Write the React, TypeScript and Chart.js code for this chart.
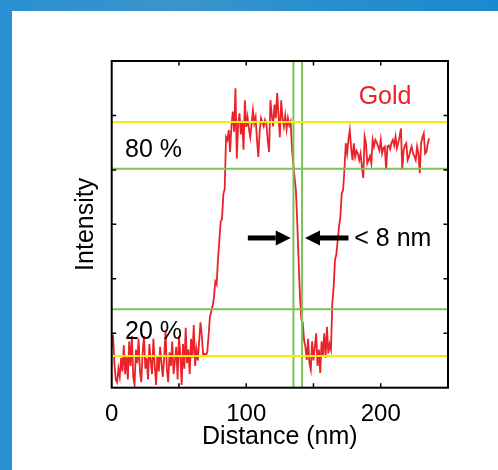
import { useEffect, useRef } from "react";
import { Chart, registerables } from "chart.js";

Chart.register(...registerables);

// ---- data (intensity profile, 1 nm sampling, starting at 0 nm) ----
const lowSideA = [
  0.74, 0.97, 0.45, 0.15, 0.10, 0.35, 0.20, 0.55, 0.30, 0.78,
  0.25, 0.60, 0.15, 0.85, 0.40, 0.95, 0.20, 0.05, 0.70, 0.45,
  0.90, 0.30, 0.10, 0.65, 0.95, 0.35, 0.55, 0.15, 0.80, 0.50,
  0.25, 0.90, 0.40, 0.05, 0.60, 0.30, 0.75, 0.45, 0.20, 0.55,
  1.05, 0.35, 0.10, 0.65, 0.40, 0.85, 0.25, 0.50, 0.75, 0.15,
  0.95, 0.60, 0.05, 0.80, 0.35, 1.10, 0.45, 0.70, 0.25, 0.90,
  0.55, 1.15, 0.40, 0.70, 0.50, 0.85, 1.20, 0.95, 0.60, 0.62,
];
const risingEdge = [
  0.60, 0.65, 0.95, 1.30, 1.40, 1.50, 1.65, 1.95, 1.90, 2.35,
  2.70, 3.05, 3.10, 3.55, 3.65, 4.60,
];
const goldPlateau = [
  4.55, 4.73, 4.33, 4.79, 5.07, 4.70, 5.50, 4.21, 4.85, 5.04,
  4.65, 4.90, 4.37, 5.28, 4.79, 4.97, 4.75, 4.60, 4.85, 5.10,
  4.86, 4.97, 4.55, 4.24, 4.70, 4.95, 4.88, 4.80, 4.92, 4.85,
  4.55, 4.33, 5.28, 5.00, 4.80, 5.20, 4.95, 5.41, 5.00, 4.60,
  5.28, 4.95, 4.80, 5.00, 4.75, 4.95, 4.82, 4.89,
];
const gapTrough = [
  4.40, 4.10, 3.85, 3.60, 3.00, 2.30, 1.65, 1.25, 1.20, 0.88,
  0.75, 0.51, 0.90, 0.45, 0.33, 0.85, 0.50, 0.75, 1.00, 0.40,
  0.70, 0.27, 0.85, 0.60, 1.00, 0.55, 1.12, 0.63, 0.80, 0.70,
  1.55, 1.85, 2.35, 2.45, 2.70, 2.96, 3.14, 3.57, 3.63,
];
const rightPlateau = [
  4.00, 4.49, 4.30, 4.55, 4.73, 4.40, 4.18, 4.49, 4.24, 4.35,
  4.30, 4.18, 4.30, 4.05, 3.85, 4.61, 4.49, 4.12, 4.18, 4.25,
  4.12, 4.55, 4.43, 4.55, 4.50, 4.43, 4.36, 4.55, 4.30, 4.40,
  4.43, 4.00, 4.43, 4.45, 4.38, 4.50, 4.55, 4.45, 4.61, 4.40,
  4.50, 4.61, 4.76, 4.00, 4.36, 4.45, 4.49, 4.18, 4.24, 4.35,
  4.43, 4.30, 4.25, 4.18, 4.43, 4.30, 3.94, 4.49, 4.60, 4.67,
  4.30, 4.33, 4.49, 4.58,
];
const intensity = [...lowSideA, ...risingEdge, ...goldPlateau, ...gapTrough, ...rightPlateau];
const distance = intensity.map((_, i) => i);

const xLabelTicks = [0, 100, 200];
const xRange = [0, 250];
const yRange = [0, 6];
const levels100 = [0.58, 4.88]; // yellow: 0 % and 100 % levels
const levels2080 = [1.44, 4.02]; // green: 20 % and 80 % levels
const edgePositions = [135.1, 141.5]; // green verticals (nm)

// ---- styles ----
const FONT = "'Liberation Sans', Arial, Helvetica, sans-serif";
const RED = "#ea2229";
const YELLOW = "#f3ef00";
const GREEN = "#7cc25a";

const textNotes = [
  { text: "Gold", x: 183.6, y: 5.21, color: RED },
  { text: "80 %", x: 9.9, y: 4.23, color: "#000" },
  { text: "20 %", x: 9.9, y: 0.89, color: "#000" },
  { text: "< 8 nm", x: 180.3, y: 2.6, color: "#000" },
];
const arrowNotes = [
  { from: 101.2, to: 133.1, y: 2.75 },
  { from: 176.0, to: 143.7, y: 2.75 },
];

const overlay = {
  id: "overlay",
  afterDatasetsDraw(chart: any) {
    const { ctx, chartArea: a, scales } = chart;
    const x = scales.x;
    const y = scales.y;
    ctx.save();
    // frame
    ctx.strokeStyle = "#000";
    ctx.lineWidth = 2;
    ctx.strokeRect(a.left, a.top, a.right - a.left, a.bottom - a.top);
    // inward ticks
    ctx.lineWidth = 1.5;
    ctx.beginPath();
    const tl = 4.5;
    for (const t of x.ticks) {
      if (t.value <= xRange[0] || t.value >= xRange[1]) continue;
      const px = x.getPixelForValue(t.value);
      ctx.moveTo(px, a.bottom);
      ctx.lineTo(px, a.bottom - tl);
      ctx.moveTo(px, a.top);
      ctx.lineTo(px, a.top + tl);
    }
    for (const t of y.ticks) {
      if (t.value <= yRange[0] || t.value >= yRange[1]) continue;
      const py = y.getPixelForValue(t.value);
      ctx.moveTo(a.left, py);
      ctx.lineTo(a.left + tl, py);
      ctx.moveTo(a.right, py);
      ctx.lineTo(a.right - tl, py);
    }
    ctx.stroke();
    // text notes
    ctx.font = `25px ${FONT}`;
    ctx.textBaseline = "alphabetic";
    ctx.textAlign = "left";
    for (const n of textNotes) {
      ctx.fillStyle = n.color;
      ctx.fillText(n.text, x.getPixelForValue(n.x), y.getPixelForValue(n.y));
    }
    // arrows
    ctx.fillStyle = "#000";
    for (const ar of arrowNotes) {
      const tail = x.getPixelForValue(ar.from);
      const tip = x.getPixelForValue(ar.to);
      const py = y.getPixelForValue(ar.y);
      const dir = Math.sign(tip - tail);
      const headLen = 15;
      const headHalf = 7.5;
      const shaft = 5;
      const base = tip - dir * headLen;
      ctx.fillRect(Math.min(tail, base), py - shaft / 2, Math.abs(base - tail), shaft);
      ctx.beginPath();
      ctx.moveTo(tip, py);
      ctx.lineTo(base, py - headHalf);
      ctx.lineTo(base, py + headHalf);
      ctx.closePath();
      ctx.fill();
    }
    ctx.restore();
  },
};

export default function App() {
  const ref = useRef<HTMLCanvasElement>(null);
  useEffect(() => {
    const hLine = (v: number, color: string) => ({
      data: [
        { x: xRange[0], y: v },
        { x: xRange[1], y: v },
      ],
      borderColor: color,
      borderWidth: 2,
      pointRadius: 0,
      tension: 0,
    });
    const vLine = (v: number, color: string) => ({
      data: [
        { x: v, y: yRange[0] },
        { x: v, y: yRange[1] },
      ],
      borderColor: color,
      borderWidth: 2,
      pointRadius: 0,
      tension: 0,
    });
    const chart = new Chart(ref.current as HTMLCanvasElement, {
      type: "line",
      data: {
        datasets: [
          ...levels100.map((v) => hLine(v, YELLOW)),
          ...levels2080.map((v) => hLine(v, GREEN)),
          ...edgePositions.map((v) => vLine(v, GREEN)),
          {
            label: "Gold",
            data: distance.map((d, i) => ({ x: d, y: intensity[i] })),
            borderColor: RED,
            borderWidth: 1.8,
            pointRadius: 0,
            tension: 0,
          },
        ] as any,
      },
      options: {
        animation: false,
        responsive: false,
        layout: { padding: { left: 0, right: 50, top: 61, bottom: 0 } },
        plugins: { legend: { display: false }, tooltip: { enabled: false } },
        scales: {
          x: {
            type: "linear",
            position: "bottom",
            min: xRange[0],
            max: xRange[1],
            afterFit: (s: any) => {
              s.height = 82.3;
            },
            ticks: {
              stepSize: 50,
              autoSkip: false,
              maxRotation: 0,
              padding: 12,
              color: "#000",
              font: { family: FONT, size: 24 },
              callback: (v: any) => (xLabelTicks.includes(Number(v)) ? String(v) : ""),
            },
            grid: { display: false, drawTicks: false },
            border: { display: false },
            title: {
              display: true,
              text: "Distance (nm)",
              color: "#000",
              font: { family: FONT, size: 25 },
              padding: { top: 0, bottom: 18 },
            },
          },
          y: {
            type: "linear",
            min: yRange[0],
            max: yRange[1],
            afterFit: (s: any) => {
              s.width = 111.7;
            },
            ticks: { display: false, stepSize: 1 },
            grid: { display: false, drawTicks: false },
            border: { display: false },
            title: {
              display: true,
              text: "Intensity",
              color: "#000",
              font: { family: FONT, size: 25 },
              padding: { top: 71, bottom: 0 },
            },
          },
        },
      } as any,
      plugins: [overlay],
    });
    return () => chart.destroy();
  }, []);
  return (
    <div
      style={{
        position: "fixed",
        left: 0,
        top: 0,
        width: 498,
        height: 470,
        overflow: "hidden",
        background: "linear-gradient(90deg, #2a8fd0 0%, #3a95cc 35%, #2b8fcd 60%, #1a8ad0 100%)",
      }}
    >
      <div style={{ position: "absolute", left: 12, top: 11, right: 0, bottom: 0, background: "#fff" }} />
      <canvas
        ref={ref}
        width={498}
        height={470}
        style={{ position: "absolute", left: 0, top: 0, width: 498, height: 470 }}
      />
    </div>
  );
}
